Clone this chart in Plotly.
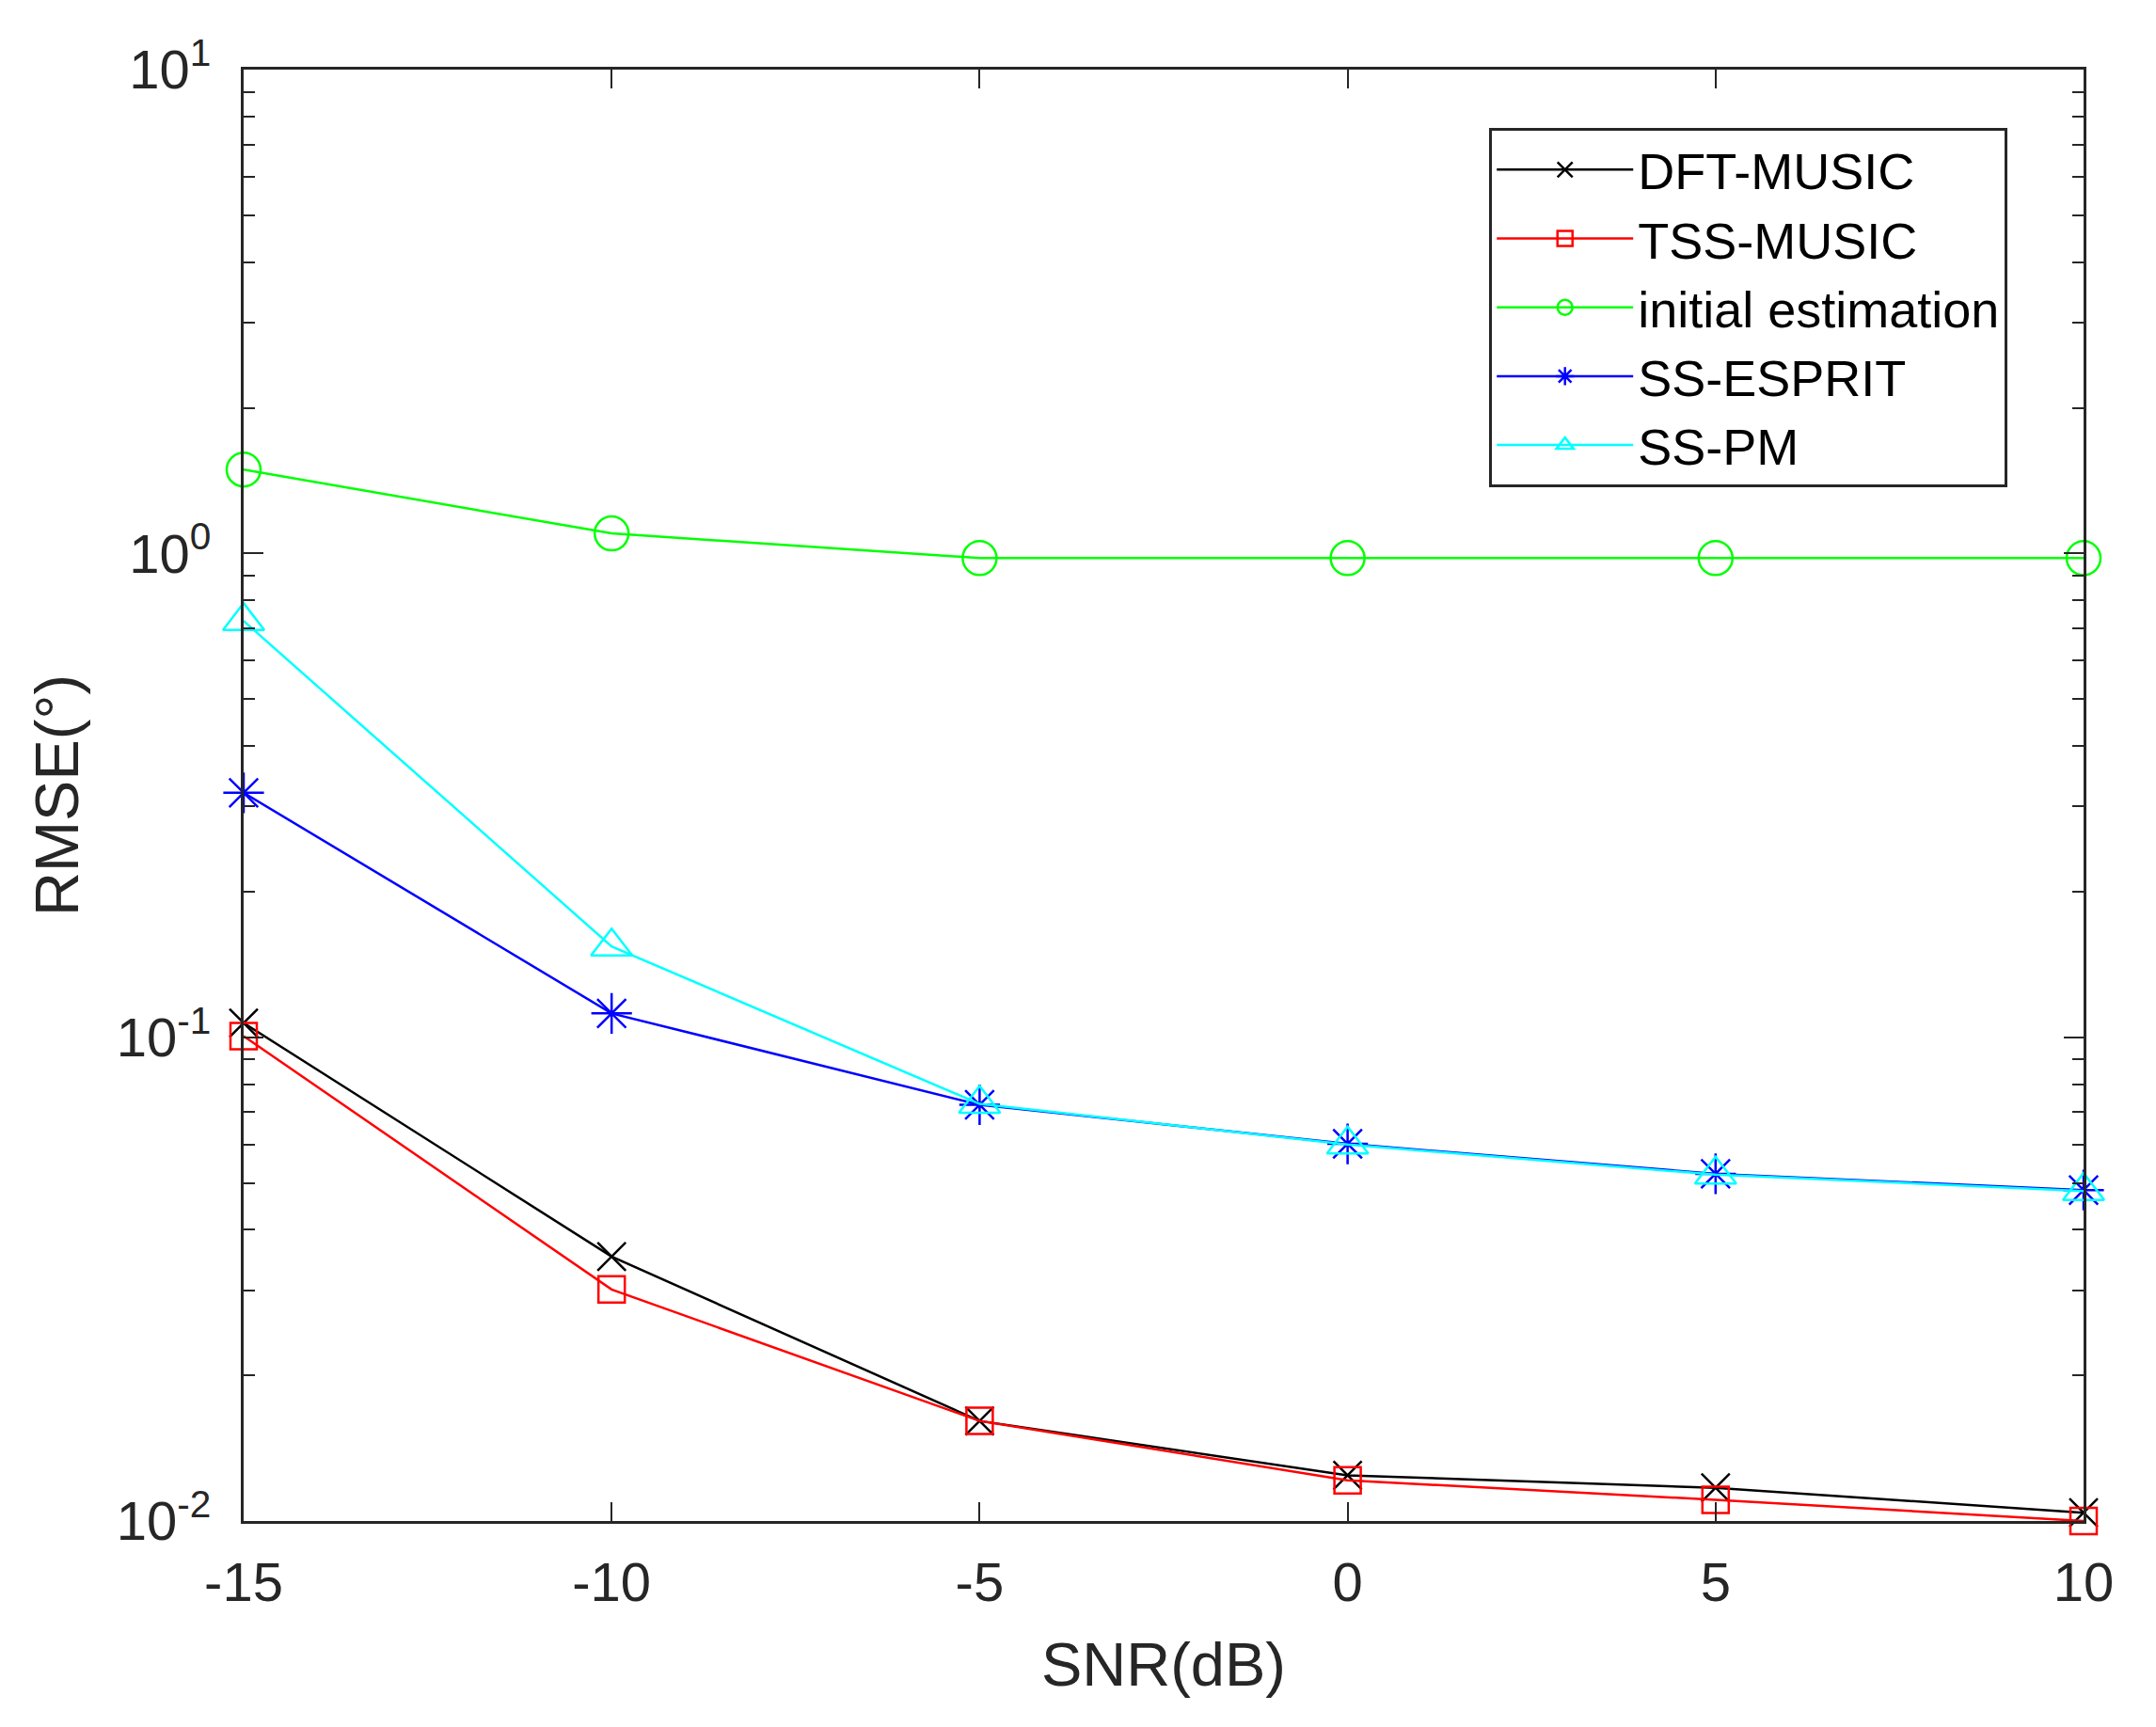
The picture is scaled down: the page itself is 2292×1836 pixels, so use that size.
import plotly.graph_objects as go

# SNR points (dB)
snr = [-15, -10, -5, 0, 5, 10]
snr_labels = ["-15", "-10", "-5", "0", "5", "10"]

# RMSE (deg)
dft_music = [0.107, 0.0352, 0.0161, 0.01243, 0.01171, 0.0104]
tss_music = [0.1005, 0.0301, 0.0161, 0.01214, 0.01106, 0.0100]
initial_est = [1.49, 1.10, 0.978, 0.978, 0.978, 0.978]
ss_esprit = [0.32, 0.112, 0.0725, 0.0602, 0.0522, 0.0483]
ss_pm = [0.725, 0.154, 0.0728, 0.0600, 0.0520, 0.0481]

names = ["DFT-MUSIC", "TSS-MUSIC", "initial estimation", "SS-ESPRIT", "SS-PM"]
colors = ["#000000", "#FF0000", "#00FF00", "#0000FF", "#00FFFF"]
symbols = ["x-thin-open", "square-open", "circle-open", "asterisk-open", "triangle-up-open"]
msizes = [30, 28, 36, 36, 38]

y_tickvals = [0.01, 0.1, 1, 10]
y_ticktext = ["10<sup>-2</sup>", "10<sup>-1</sup>", "10<sup>0</sup>", "10<sup>1</sup>"]
y_minor = [m * d for d in (0.01, 0.1, 1) for m in range(2, 10)]

FONT = "Arial, Liberation Sans, sans-serif"
AXC = "#262626"

fig = go.Figure()
series = [dft_music, tss_music, initial_est, ss_esprit, ss_pm]
for name, ys, c, s, ms in zip(names, series, colors, symbols, msizes):
    fig.add_trace(go.Scatter(
        x=snr, y=ys, name=name, mode="lines+markers",
        line=dict(color=c, width=2.5),
        marker=dict(symbol=s, size=ms, color=c, line=dict(color=c, width=2.5)),
        cliponaxis=False,
    ))

# the page body adds an 8px offset, so the margins are shifted by that much
fig.update_layout(
    width=2292, height=1836,
    margin=dict(l=251, r=85, t=66, b=227),
    paper_bgcolor="white", plot_bgcolor="white",
    font=dict(family=FONT, size=58, color=AXC),
    showlegend=True,
    legend=dict(
        x=0.677, y=0.96, xanchor="left", yanchor="top",
        bgcolor="white", bordercolor=AXC, borderwidth=3,
        font=dict(family=FONT, size=54, color="#000000"),
        tracegroupgap=0, itemsizing="trace", itemwidth=145,
    ),
)

fig.update_xaxes(
    range=[-15, 10], tickvals=snr, ticktext=snr_labels, ticks="inside",
    ticklen=20, tickwidth=2, tickcolor=AXC, showline=True, linecolor=AXC,
    linewidth=3, mirror="ticks", showgrid=False, zeroline=False,
    ticklabelstandoff=12,
    title=dict(text="SNR(dB)", font=dict(size=65), standoff=34),
)
fig.update_yaxes(
    type="log", range=[-2, 1], tickvals=y_tickvals, ticktext=y_ticktext,
    ticks="inside", ticklen=21, tickwidth=2, tickcolor=AXC,
    minor=dict(tickvals=y_minor, ticks="inside", ticklen=12, tickwidth=2, tickcolor=AXC),
    showline=True, linecolor=AXC, linewidth=3, mirror="ticks",
    showgrid=False, zeroline=False, ticklabelstandoff=20,
    title=dict(text="RMSE(°)", font=dict(size=65), standoff=20),
)

fig.write_html("out.html")
